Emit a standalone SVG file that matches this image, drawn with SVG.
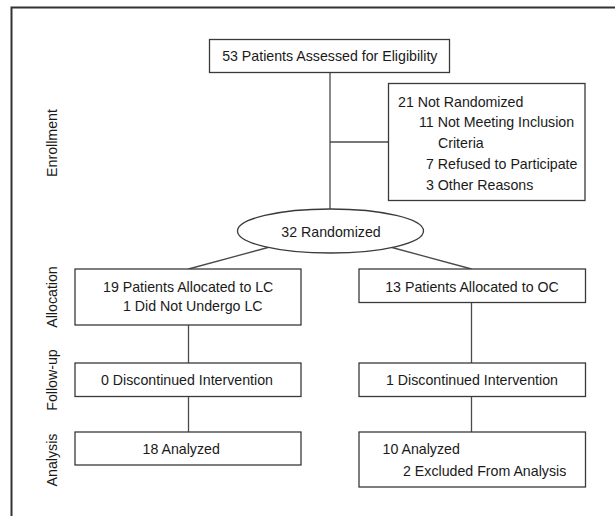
<svg xmlns="http://www.w3.org/2000/svg" width="615" height="516" viewBox="0 0 615 516">
<style>
  .box { fill: #ffffff; stroke: #3a3a3a; stroke-width: 1.3; }
  .conn { fill: none; stroke: #4a4a4a; stroke-width: 1.3; }
  .frame { fill: none; stroke: #333333; stroke-width: 2; }
  text { font-family: "Liberation Sans", Arial, Helvetica, sans-serif; font-size: 14.2px; fill: #1a1a1a; }
  .c { text-anchor: middle; }
  .lab { text-anchor: middle; }
</style>
<rect x="0" y="0" width="615" height="516" fill="#ffffff"/>
<g id="frame">
  <path class="frame" d="M11.5 516 V7.5 H615"/>
</g>
<g id="stage-labels">
  <text class="lab" transform="translate(56.5,143) rotate(-90)">Enrollment</text>
  <text class="lab" transform="translate(56.5,297) rotate(-90)">Allocation</text>
  <text class="lab" transform="translate(56.5,380) rotate(-90)">Follow-up</text>
  <text class="lab" transform="translate(56.5,460) rotate(-90)">Analysis</text>
</g>
<g id="connectors">
  <line class="conn" x1="330" y1="72.5" x2="330" y2="209"/>
  <line class="conn" x1="330" y1="142" x2="388.5" y2="142"/>
  <line class="conn" x1="268" y1="247.5" x2="188.5" y2="269"/>
  <line class="conn" x1="392" y1="247.5" x2="471.5" y2="269"/>
  <line class="conn" x1="188.5" y1="325" x2="188.5" y2="363"/>
  <line class="conn" x1="471.5" y1="302.5" x2="471.5" y2="363"/>
  <line class="conn" x1="188.5" y1="396.5" x2="188.5" y2="432"/>
  <line class="conn" x1="471.5" y1="396.5" x2="471.5" y2="432"/>
</g>
<g id="assessed">
  <rect class="box" x="209.5" y="39.5" width="240" height="33"/>
  <text class="c" x="329.8" y="61">53 Patients Assessed for Eligibility</text>
</g>
<g id="not-randomized">
  <rect class="box" x="388.5" y="83.5" width="196.5" height="117"/>
  <text x="398" y="106.5">21 Not Randomized</text>
  <text x="419" y="127">11 Not Meeting Inclusion</text>
  <text x="438" y="147.5">Criteria</text>
  <text x="426" y="168.5">7 Refused to Participate</text>
  <text x="426" y="190">3 Other Reasons</text>
</g>
<g id="randomized">
  <ellipse class="box" cx="330.5" cy="231" rx="93" ry="22"/>
  <text class="c" x="331" y="236.5">32 Randomized</text>
</g>
<g id="alloc-lc">
  <rect class="box" x="75" y="269" width="226" height="56"/>
  <text x="103" y="291.5">19 Patients Allocated to LC</text>
  <text x="123" y="311">1 Did Not Undergo LC</text>
</g>
<g id="alloc-oc">
  <rect class="box" x="359" y="269" width="226.5" height="33.5"/>
  <text class="c" x="472" y="291.5">13 Patients Allocated to OC</text>
</g>
<g id="followup-lc">
  <rect class="box" x="75" y="363" width="226" height="33.5"/>
  <text class="c" x="187" y="385">0 Discontinued Intervention</text>
</g>
<g id="followup-oc">
  <rect class="box" x="359" y="363" width="226.5" height="33.5"/>
  <text class="c" x="472" y="385">1 Discontinued Intervention</text>
</g>
<g id="analysis-lc">
  <rect class="box" x="75" y="432" width="226" height="33"/>
  <text x="142.5" y="454">18 Analyzed</text>
</g>
<g id="analysis-oc">
  <rect class="box" x="359" y="432" width="226.5" height="55"/>
  <text x="382.5" y="454">10 Analyzed</text>
  <text x="403" y="476">2 Excluded From Analysis</text>
</g>
</svg>
